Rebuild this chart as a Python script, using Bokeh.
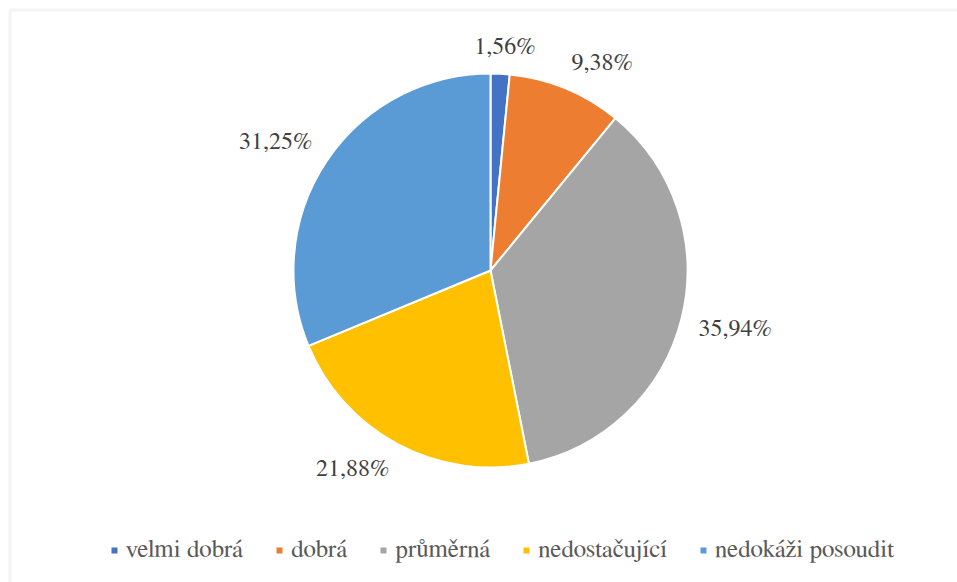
import math
import numpy as np
from bokeh.plotting import figure
from bokeh.models import ColumnDataSource, Range1d, Legend, LegendItem, BoxAnnotation
from bokeh.core.properties import value
from bokeh.embed import file_html
from bokeh.resources import INLINE

# ---- data ----
categories = ["velmi dobrá", "dobrá", "průměrná", "nedostačující", "nedokáži posoudit"]
percents = [1.56, 9.38, 35.94, 21.88, 31.25]
label_texts = ["1,56%", "9,38%", "35,94%", "21,88%", "31,25%"]
colors = ["#4472C4", "#ED7D31", "#A5A5A5", "#FFC000", "#5B9BD5"]

# ---- layout ----
W, H = 957, 582
CX, CY = 490, 312      # pie centre in plot pixels (y up)
R = 197
GAP = 17
FONT = "FreeSerif"
FS = 24
FS_LEG = 25

total = sum(percents)
frac = np.array(percents) / total
cum = np.concatenate([[0.0], np.cumsum(frac)])
start = math.pi / 2 - 2 * math.pi * cum[:-1]
end = math.pi / 2 - 2 * math.pi * cum[1:]

src = ColumnDataSource(dict(cat=categories, start=start, end=end, color=colors))

p = figure(width=W, height=H, output_backend="svg", toolbar_location=None,
           x_range=Range1d(0, W), y_range=Range1d(0, H), min_border=0,
           outline_line_color=None, background_fill_color="white",
           border_fill_color="white")
p.axis.visible = False
p.grid.visible = False

r = p.wedge(x=CX, y=CY, radius=R, start_angle="start", end_angle="end",
            direction="clock", fill_color="color", line_color="white",
            line_width=2, source=src)

def text_width(s):
    w = 0.0
    for ch in s:
        if ch.isdigit():
            w += 0.5
        elif ch == ",":
            w += 0.25
        elif ch == "%":
            w += 0.833
        else:
            w += 0.5
    return w * FS

lx, ly = [], []
for i in range(len(percents)):
    mid = 2 * math.pi * (cum[i] + cum[i + 1]) / 2   # clockwise from top
    ux, uy = math.sin(mid), math.cos(mid)
    hw = text_width(label_texts[i]) / 2
    hh = 10
    gx = max(-1, min(1, 2.5 * ux))
    gy = max(-1, min(1, 2.5 * uy))
    lx.append(CX + (R + GAP) * ux + hw * gx)
    ly.append(CY + (R + GAP) * uy + hh * gy)

lsrc = ColumnDataSource(dict(x=lx, y=ly, t=label_texts))
p.text(x="x", y="y", text="t", source=lsrc, text_align="center",
       text_baseline="middle", text_font=value(FONT),
       text_font_size=f"{FS}px", text_color="#404040")

p.add_layout(BoxAnnotation(left=9.5, right=W + 20, top=H - 9.5, bottom=-20,
                           fill_alpha=0, line_color="#D9D9D9", line_width=3))

legend = Legend(items=[LegendItem(label=c, renderers=[r], index=i)
                       for i, c in enumerate(categories)],
                orientation="horizontal", location=(109, 18),
                glyph_width=10, glyph_height=10, label_standoff=7, spacing=31,
                padding=0, margin=0, border_line_color=None,
                background_fill_alpha=0,
                label_text_font=FONT, label_text_font_size=f"{FS_LEG}px",
                label_text_color="#595959")
p.add_layout(legend)

open("out.html", "w").write(file_html(p, INLINE))
